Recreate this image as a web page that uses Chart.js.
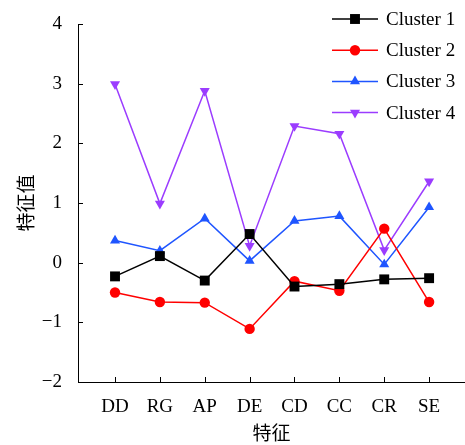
<!DOCTYPE html>
<html>
<head>
<meta charset="utf-8">
<script src="https://cdn.jsdelivr.net/npm/chart.js@4/dist/chart.umd.min.js"></script>
<style>
  html, body { margin: 0; padding: 0; background: #fff; }
  #wrap { width: 465px; height: 445px; }
</style>
</head>
<body>
<div id="wrap"><canvas id="c" width="465" height="445"></canvas></div>
<script>
const categories = ['DD', 'RG', 'AP', 'DE', 'CD', 'CC', 'CR', 'SE'];
const seriesNames = ['Cluster 1', 'Cluster 2', 'Cluster 3', 'Cluster 4'];
const cluster1 = [-0.23, 0.11, -0.30, 0.48, -0.40, -0.36, -0.28, -0.26];
const cluster2 = [-0.50, -0.66, -0.67, -1.11, -0.31, -0.47, 0.57, -0.66];
const cluster3 = [0.37, 0.20, 0.74, 0.03, 0.70, 0.78, -0.03, 0.93];
const cluster4 = [2.99, 0.99, 2.88, 0.28, 2.29, 2.16, 0.21, 1.36];
const yTicks = [-2, -1, 0, 1, 2, 3, 4];
const xTitle = '特征';
const yTitle = '特征值';

const colors = ['#000000', '#ff0000', '#1f55ff', '#9b3cff'];
const styles = [
  { pointStyle: 'rect', radius: 7, rotation: 0 },
  { pointStyle: 'circle', radius: 5.2, rotation: 0 },
  { pointStyle: 'triangle', radius: 5.8, rotation: 0 },
  { pointStyle: 'triangle', radius: 5.8, rotation: 180 }
];
const allData = [cluster1, cluster2, cluster3, cluster4];

const datasets = allData.map((arr, k) => ({
  label: seriesNames[k],
  data: arr.map((v, i) => ({ x: i, y: v })),
  borderColor: colors[k],
  backgroundColor: colors[k],
  borderWidth: 1.5,
  pointStyle: styles[k].pointStyle,
  pointRadius: styles[k].radius,
  pointRotation: styles[k].rotation,
  pointBorderWidth: 0,
  pointBackgroundColor: colors[k],
  tension: 0,
  clip: false
}));

const serif = '"Liberation Serif", "Times New Roman", serif';
const cjk = '"Noto Sans CJK SC", sans-serif';

const innerTicks = {
  id: 'innerTicks',
  afterDatasetsDraw(chart) {
    const ctx = chart.ctx;
    const xs = chart.scales.x, ys = chart.scales.y;
    ctx.save();
    ctx.strokeStyle = '#000';
    ctx.lineWidth = 1;
    ctx.beginPath();
    yTicks.forEach(v => {
      const p = Math.round(ys.getPixelForValue(v)) + 0.5;
      ctx.moveTo(xs.left, p); ctx.lineTo(xs.left + 5, p);
    });
    categories.forEach((c, i) => {
      const p = Math.round(xs.getPixelForValue(i)) + 0.5;
      ctx.moveTo(p, ys.bottom); ctx.lineTo(p, ys.bottom - 5);
    });
    ctx.stroke();
    ctx.restore();
  }
};

const customLegend = {
  id: 'customLegend',
  afterDraw(chart) {
    const ctx = chart.ctx;
    ctx.save();
    chart.data.datasets.forEach((ds, k) => {
      const y = 19 + k * 31.2;
      ctx.strokeStyle = ds.borderColor;
      ctx.lineWidth = 1.5;
      ctx.beginPath();
      ctx.moveTo(332, y); ctx.lineTo(378, y);
      ctx.stroke();
      ctx.fillStyle = ds.borderColor;
      ctx.strokeStyle = ds.borderColor;
      Chart.helpers.drawPoint(ctx, {
        pointStyle: ds.pointStyle,
        rotation: ds.pointRotation,
        radius: ds.pointRadius,
        borderWidth: 0
      }, 355, y);
      ctx.fillStyle = '#000';
      ctx.font = '19px ' + serif;
      ctx.textAlign = 'left';
      ctx.textBaseline = 'middle';
      ctx.fillText(ds.label, 386, y + 1);
    });
    ctx.restore();
  }
};

new Chart(document.getElementById('c'), {
  type: 'line',
  data: { datasets },
  options: {
    responsive: false,
    animation: false,
    devicePixelRatio: 1,
    layout: { autoPadding: false, padding: { top: 24, right: 0, left: 0, bottom: 0 } },
    plugins: { legend: { display: false }, tooltip: { enabled: false } },
    scales: {
      x: {
        type: 'linear',
        min: -0.825,
        max: 7.8,
        afterBuildTicks(scale) { scale.ticks = categories.map((c, i) => ({ value: i })); },
        afterFit(scale) { scale.height = 63; },
        grid: { display: false, drawTicks: true, tickLength: 10, tickColor: 'rgba(0,0,0,0)' },
        border: { display: true, color: '#000', width: 1 },
        ticks: {
          autoSkip: false,
          maxRotation: 0,
          padding: 4,
          color: '#000',
          font: { family: serif, size: 19 },
          callback: (v) => categories[v] !== undefined ? categories[v] : ''
        },
        title: { display: true, text: xTitle, color: '#000', font: { family: cjk, size: 19 }, padding: { top: 0, bottom: 1 } }
      },
      y: {
        min: -2,
        max: 4,
        afterBuildTicks(scale) { scale.ticks = yTicks.map(v => ({ value: v })); },
        afterFit(scale) { scale.width = 78; },
        grid: { display: false, drawTicks: true, tickLength: 12, tickColor: 'rgba(0,0,0,0)' },
        border: { display: true, color: '#000', width: 1 },
        ticks: {
          padding: 4,
          color: '#000',
          font: { family: serif, size: 19 },
          callback: (v) => (v < 0 ? '\u2212' + Math.abs(v) : String(v))
        },
        title: { display: true, text: yTitle, color: '#000', font: { family: cjk, size: 19 }, padding: { top: 14, bottom: 0 } }
      }
    }
  },
  plugins: [innerTicks, customLegend]
});
</script>
</body>
</html>
